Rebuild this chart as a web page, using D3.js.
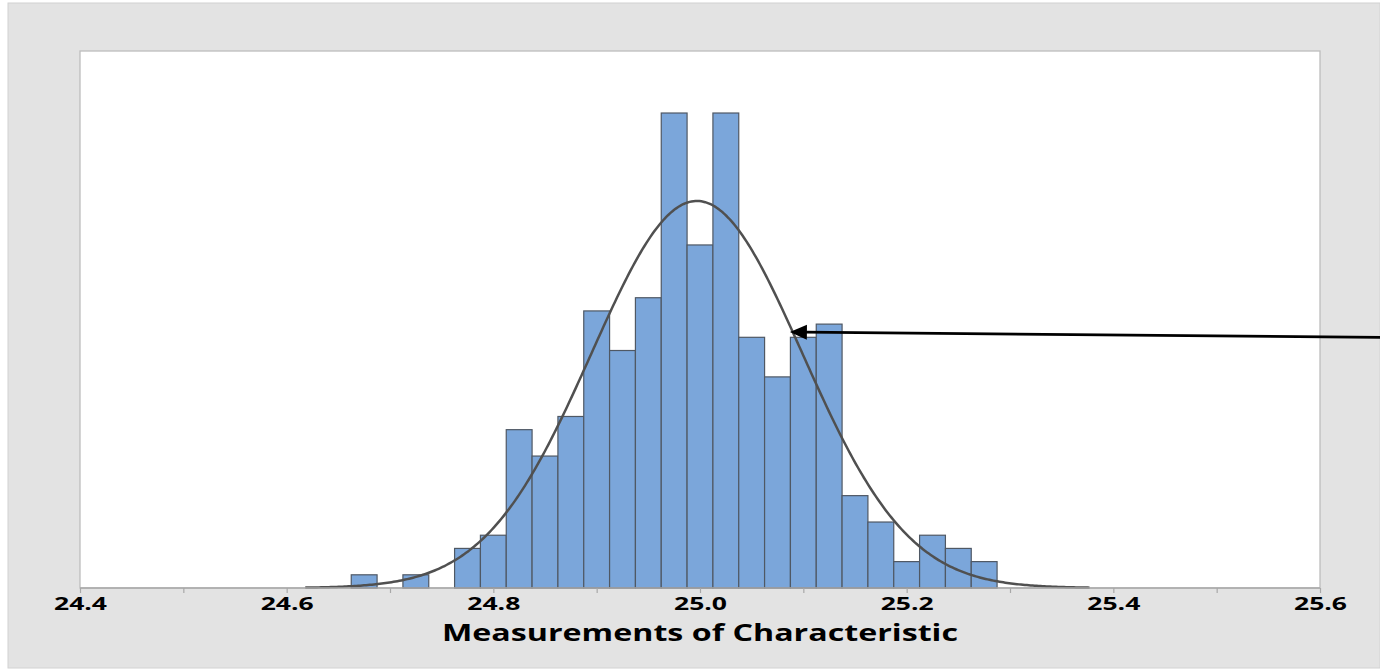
<!DOCTYPE html>
<html>
<head>
<meta charset="utf-8">
<script src="https://cdn.jsdelivr.net/npm/d3@7"></script>
<style>
  html, body { margin: 0; padding: 0; background: #ffffff; }
  svg { display: block; }
</style>
</head>
<body>
<svg id="chart" width="1380" height="670"></svg>
<script>
// ---- data ----
const binCenters = [24.675, 24.7, 24.725, 24.75, 24.775, 24.8, 24.825, 24.85, 24.875, 24.9, 24.925, 24.95, 24.975, 25.0, 25.025, 25.05, 25.075, 25.1, 25.125, 25.15, 25.175, 25.2, 25.225, 25.25, 25.275];
const binCounts  = [1, 0, 1, 0, 3, 4, 12, 10, 13, 21, 18, 22, 36, 26, 36, 19, 16, 19, 20, 7, 5, 2, 4, 3, 2];
const binWidth = 0.025;
const xTickValues = [24.4, 24.6, 24.8, 25.0, 25.2, 25.4, 25.6];
const xTickLabels = ["24.4", "24.6", "24.8", "25.0", "25.2", "25.4", "25.6"];
const xMinorTicks = [24.5, 24.7, 24.9, 25.1, 25.3, 25.5];
const xDomain = [24.4, 25.6];
const yMax = 40.7;
const fitMean = 24.997;
const fitSd = 0.102;
const fitRange = [24.618, 25.377];
const xTitle = "Measurements of Characteristic";
const arrowFrom = [25.66, 19.0];   // data coords (x, count)
const arrowTo = [25.087, 19.4];

// ---- layout ----
const svg = d3.select("#chart");
const W = 1380, H = 670;
const plot = { left: 80, top: 51, right: 1320, bottom: 588 };
const FONT = "'Open Sans', 'DejaVu Sans', sans-serif";

svg.append("rect").attr("x", 8).attr("y", 3).attr("width", W - 8).attr("height", 665)
  .attr("fill", "#e3e3e3").attr("stroke", "#d2d2d2").attr("stroke-width", 1);

svg.append("rect").attr("x", plot.left).attr("y", plot.top)
  .attr("width", plot.right - plot.left).attr("height", plot.bottom - plot.top)
  .attr("fill", "#ffffff").attr("stroke", "#bdbdbd").attr("stroke-width", 1.3);

const x = d3.scaleLinear().domain(xDomain).range([plot.left, plot.right]);
const y = d3.scaleLinear().domain([0, yMax]).range([plot.bottom, plot.top]);

const n = d3.sum(binCounts);

// bars
const bars = binCenters.map((c, i) => ({ c, v: binCounts[i] })).filter(d => d.v > 0);
svg.append("g").selectAll("rect").data(bars).join("rect")
  .attr("x", d => x(d.c - binWidth / 2))
  .attr("width", d => x(d.c + binWidth / 2) - x(d.c - binWidth / 2))
  .attr("y", d => y(d.v))
  .attr("height", d => y(0) - y(d.v))
  .attr("fill", "#7ba6da")
  .attr("stroke", "#4f5864")
  .attr("stroke-width", 1.2);

// fitted normal curve
const pts = d3.range(0, 401).map(i => {
  const xv = fitRange[0] + (fitRange[1] - fitRange[0]) * i / 400;
  const z = (xv - fitMean) / fitSd;
  const dens = n * binWidth / (fitSd * Math.sqrt(2 * Math.PI)) * Math.exp(-0.5 * z * z);
  return [xv, dens];
});
svg.append("path").datum(pts)
  .attr("d", d3.line().x(d => x(d[0])).y(d => y(d[1])))
  .attr("fill", "none").attr("stroke", "#505050").attr("stroke-width", 2.5)
  .attr("stroke-linejoin", "round");

// x axis
const axisG = svg.append("g").attr("transform", `translate(0,${plot.bottom})`);
axisG.append("line").attr("x1", plot.left).attr("x2", plot.right)
  .attr("y1", 0).attr("y2", 0).attr("stroke", "#a8a8a8").attr("stroke-width", 1.3);
const xAxis = d3.axisBottom(x).tickValues(xTickValues)
  .tickFormat((d, i) => xTickLabels[i]).tickSize(5).tickPadding(5);
axisG.call(xAxis);
axisG.select(".domain").remove();
axisG.selectAll(".tick line").attr("stroke", "#a8a8a8").attr("stroke-width", 1.2);
axisG.selectAll(".tick text")
  .attr("font-family", FONT)
  .attr("font-weight", "bold").attr("font-size", 18).attr("fill", "#000")
  .attr("dy", null).attr("y", 22)
  .attr("textLength", 53).attr("lengthAdjust", "spacingAndGlyphs");
const minorG = svg.append("g").attr("transform", `translate(0,${plot.bottom})`);
minorG.call(d3.axisBottom(x).tickValues(xMinorTicks).tickFormat("").tickSize(5));
minorG.select(".domain").remove();
minorG.selectAll(".tick line").attr("stroke", "#a8a8a8").attr("stroke-width", 1.2);

// title
svg.append("text").attr("x", (plot.left + plot.right) / 2).attr("y", 641)
  .attr("text-anchor", "middle")
  .attr("font-family", FONT)
  .attr("font-weight", "bold").attr("font-size", 24).attr("fill", "#000")
  .attr("textLength", 516).attr("lengthAdjust", "spacingAndGlyphs")
  .text(xTitle);

// annotation arrow
const hx = x(arrowTo[0]), hy = y(arrowTo[1]);
const fx = x(arrowFrom[0]), fy = y(arrowFrom[1]);
const ang = Math.atan2(fy - hy, fx - hx);
const hl = 17, hw = 7.5;
const bx = hx + hl * Math.cos(ang), by = hy + hl * Math.sin(ang);
svg.append("line")
  .attr("x1", fx).attr("y1", fy).attr("x2", bx - 2 * Math.cos(ang)).attr("y2", by - 2 * Math.sin(ang))
  .attr("stroke", "#000").attr("stroke-width", 2.8);
svg.append("path")
  .attr("d", `M${hx},${hy} L${bx - hw * Math.sin(ang)},${by + hw * Math.cos(ang)} L${bx + hw * Math.sin(ang)},${by - hw * Math.cos(ang)} Z`)
  .attr("fill", "#000");
</script>
</body>
</html>
